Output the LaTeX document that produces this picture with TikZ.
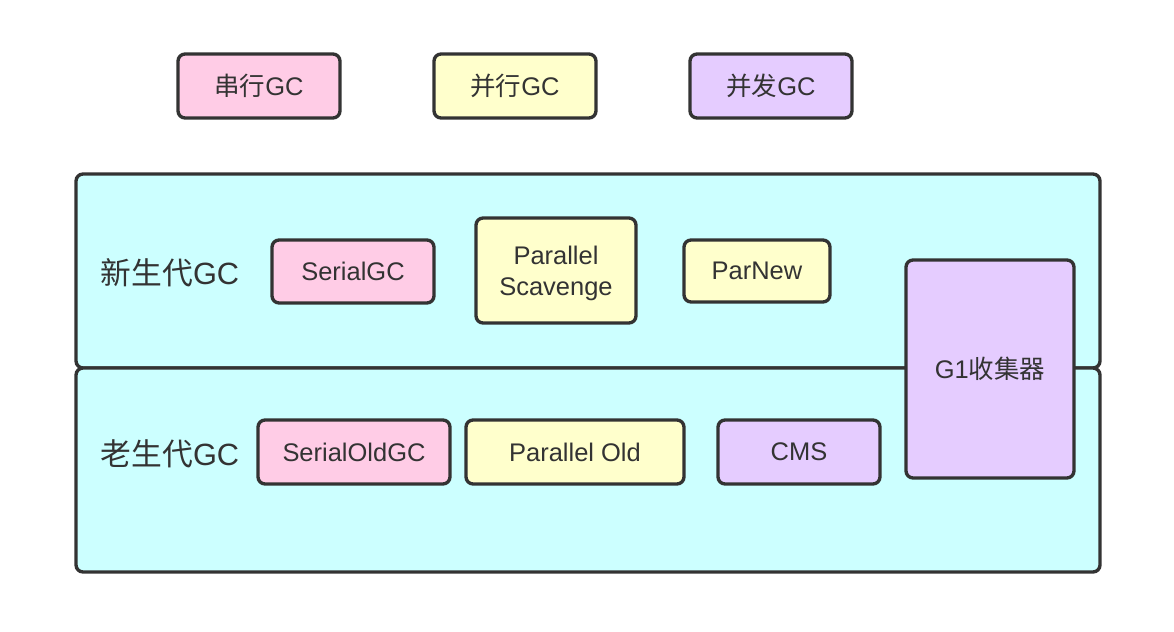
\documentclass[tikz,border=0pt]{standalone}
\usepackage{fontspec}
\setmainfont{Liberation Sans}
\newfontfamily\cjk{Noto Sans CJK SC}
\usepackage{tikz}
\usetikzlibrary{positioning}
\definecolor{pinkgc}{HTML}{FFCCE6}
\definecolor{yellowgc}{HTML}{FFFFCC}
\definecolor{purplegc}{HTML}{E5CCFF}
\definecolor{cyangc}{HTML}{CCFFFF}
\definecolor{edgegc}{HTML}{333333}
\tikzset{
gcbox/.style={draw=edgegc, line width=1.9pt, rounded corners=4pt, text=edgegc,
    font=\fontsize{14.5}{17.5}\selectfont, align=center, inner sep=0pt},
genbox/.style={draw=edgegc, line width=1.9pt, rounded corners=4pt, fill=cyangc},
genlabel/.style={text=edgegc, font=\fontsize{17.5}{21}\selectfont}
}
\begin{document}
\begin{tikzpicture}[x=0.02cm,y=-0.02cm]
\useasboundingbox (0,0) rectangle (1174,632);

% legend
\node[gcbox,fill=pinkgc,minimum width=3.24cm,minimum height=1.28cm] (serial) at (259,86) {{\cjk 串行}GC};
\node[gcbox,fill=yellowgc,minimum width=3.24cm,minimum height=1.28cm] (parallel) at (515,86) {{\cjk 并行}GC};
\node[gcbox,fill=purplegc,minimum width=3.24cm,minimum height=1.28cm] (concurrent) at (771,86) {{\cjk 并发}GC};

% generations
\draw[genbox] (76,174) rectangle (1100,368);
\draw[genbox] (76,368) rectangle (1100,572);
\node[genlabel] (young) at (170,273) {{\cjk 新生代}GC};
\node[genlabel] (old) at (170,454) {{\cjk 老生代}GC};

% young collectors
\node[gcbox,fill=pinkgc,minimum width=3.24cm,minimum height=1.26cm] (serialgc) at (353,271.5) {SerialGC};
\node[gcbox,fill=yellowgc,minimum width=3.2cm,minimum height=2.1cm] (scavenge) at (556,270.5) {\rule{0pt}{14pt}Parallel\\Scavenge};
\node[gcbox,fill=yellowgc,minimum width=2.92cm,minimum height=1.24cm] (parnew) at (757,271) {ParNew};

% old collectors
\node[gcbox,fill=pinkgc,minimum width=3.84cm,minimum height=1.28cm] (serialold) at (354,452) {SerialOldGC};
\node[gcbox,fill=yellowgc,minimum width=4.36cm,minimum height=1.28cm] (parold) at (575,452) {Parallel Old};
\node[gcbox,fill=purplegc,minimum width=3.24cm,minimum height=1.28cm] (cms) at (799,452) {CMS};

% both generations
\node[gcbox,fill=purplegc,minimum width=3.36cm,minimum height=4.36cm] (gone) at (990,369) {G1{\cjk 收集器}};
\end{tikzpicture}
\end{document}
